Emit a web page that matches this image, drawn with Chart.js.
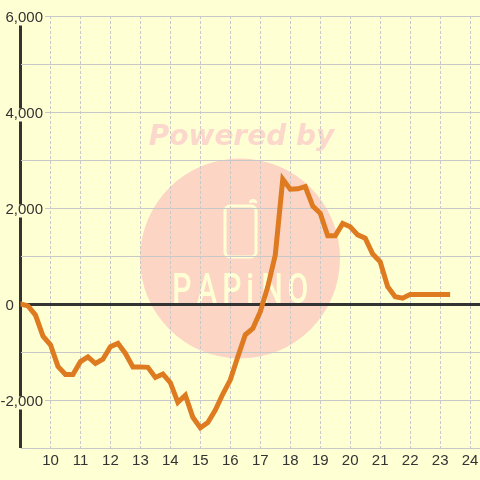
<!DOCTYPE html>
<html>
<head>
<meta charset="utf-8">
<script src="https://cdn.jsdelivr.net/npm/chart.js@4"></script>
<style>
  html, body { margin: 0; padding: 0; background: #ffffd4; }
  canvas { display: block; }
</style>
</head>
<body>
<canvas id="lineChart" width="480" height="480"></canvas>
<script>
const hours = [9, 9.25, 9.5, 9.75, 10, 10.25, 10.5, 10.75, 11, 11.25, 11.5, 11.75, 12, 12.25, 12.5, 12.75,
  13, 13.25, 13.5, 13.75, 14, 14.25, 14.5, 14.75, 15, 15.25, 15.5, 15.75, 16, 16.25, 16.5, 16.75,
  17, 17.25, 17.5, 17.75, 18, 18.25, 18.5, 18.75, 19, 19.25, 19.5, 19.75, 20, 20.25, 20.5, 20.75,
  21, 21.25, 21.5, 21.75, 22, 22.25, 22.5, 22.75, 23, 23.25];
const values = [0, -40, -230, -670, -850, -1300, -1470, -1470, -1200, -1100, -1240, -1150, -890, -820, -1030, -1310,
  -1310, -1320, -1530, -1460, -1640, -2050, -1900, -2360, -2580, -2470, -2210, -1875, -1580, -1100, -640, -510,
  -160, 360, 1020, 2600, 2390, 2400, 2445, 2040, 1890, 1420, 1420, 1680, 1610, 1440, 1370, 1040,
  880, 360, 150, 120, 200, 200, 200, 200, 200, 200];
const logoLetters = ["P", "A", "P", "i", "N", "O"];
const logoCentres = [182, 207, 232, 250, 272, 298];

const background = "#ffffd4";
const textColor = "#333333";
const gridColor = "#c8c8c8";
const fontFamily = "'Liberation Sans', Arial, sans-serif";

// watermark behind the grid
const watermark = {
  id: "watermark",
  beforeDraw(chart) {
    const ctx = chart.ctx;
    ctx.save();
    ctx.fillStyle = background;
    ctx.fillRect(0, 0, chart.width, chart.height);

    ctx.fillStyle = "#fcd5c5";
    ctx.beginPath();
    ctx.arc(240, 258.5, 100, 0, Math.PI * 2);
    ctx.fill();

    ctx.fillStyle = "#fcd8cc";
    ctx.font = "italic bold 28px 'DejaVu Sans'";
    ctx.textAlign = "center";
    ctx.textBaseline = "alphabetic";
    ctx.fillText("Powered by", 241.5, 145);

    ctx.strokeStyle = background;
    ctx.lineWidth = 3;
    ctx.beginPath();
    ctx.roundRect(225, 206, 31, 51, 5);
    ctx.stroke();
    ctx.beginPath();
    ctx.arc(253, 203, 2.5, Math.PI, 0);
    ctx.stroke();

    ctx.fillStyle = background;
    ctx.font = "500 42px Roboto";
    logoLetters.forEach((letter, i) => {
      ctx.save();
      ctx.translate(logoCentres[i], 303);
      ctx.scale(0.72, 1);
      ctx.fillText(letter, 0, 0);
      ctx.restore();
    });
    ctx.restore();

    // nudge the y labels down onto their grid lines
    chart.scales.y.getLabelItems().forEach(item => {
      if (!item.nudged) {
        item.options.translation[1] += 1.5;
        item.nudged = true;
      }
    });
  }
};

var ctxL = document.getElementById("lineChart").getContext("2d");
var myLineChart = new Chart(ctxL, {
  type: "line",
  plugins: [watermark],
  data: {
    datasets: [{
      data: hours.map((h, i) => ({ x: h, y: values[i] })),
      borderColor: "#de7a20",
      borderWidth: 5,
      borderJoinStyle: "miter",
      borderCapStyle: "square",
      pointRadius: 0,
      tension: 0,
      fill: false
    }]
  },
  options: {
    responsive: false,
    animation: false,
    layout: { padding: { left: 20.5, top: 16, right: 0, bottom: 0 } },
    plugins: { legend: { display: false }, tooltip: { enabled: false } },
    scales: {
      x: {
        type: "linear",
        min: 9,
        max: 24.33,
        afterFit(scale) { scale.height = 32; scale.paddingRight = 0; scale.paddingLeft = 0; },
        border: {
          display: false,
          dash: c => (c.tick && c.tick.value === 9 ? [] : [3, 2])
        },
        grid: {
          drawTicks: false,
          color: c => (c.tick && c.tick.value === 9 ? textColor : gridColor),
          lineWidth: c => (c.tick && c.tick.value === 9 ? 3 : 1)
        },
        ticks: {
          stepSize: 1,
          includeBounds: false,
          autoSkip: false,
          maxRotation: 0,
          padding: 4,
          color: textColor,
          font: { family: fontFamily, size: 15 },
          callback: v => (v === 9 ? "" : String(v))
        }
      },
      y: {
        min: -3000,
        max: 6000,
        afterFit(scale) { scale.width = 0; scale.paddingTop = 0; scale.paddingBottom = 0; },
        border: { display: false },
        grid: {
          drawTicks: false,
          color: c => (c.tick && c.tick.value === 0 ? textColor : gridColor),
          lineWidth: c => (c.tick && c.tick.value === 0 ? 3 : 1)
        },
        ticks: {
          stepSize: 1000,
          autoSkip: false,
          mirror: true,
          crossAlign: "far",
          padding: -20,
          color: textColor,
          font: { family: fontFamily, size: 15 },
          showLabelBackdrop: true,
          backdropColor: c => (c.tick && c.tick.value !== 0 && c.tick.value % 2000 === 0 ? background : "rgba(0,0,0,0)"),
          backdropPadding: { top: -4, bottom: -1, left: 2, right: 2 },
          callback: v => {
            if (v === 0) return "0       ";
            return v % 2000 === 0 ? v.toLocaleString("en-US") : "";
          }
        }
      }
    }
  }
});
</script>
</body>
</html>
